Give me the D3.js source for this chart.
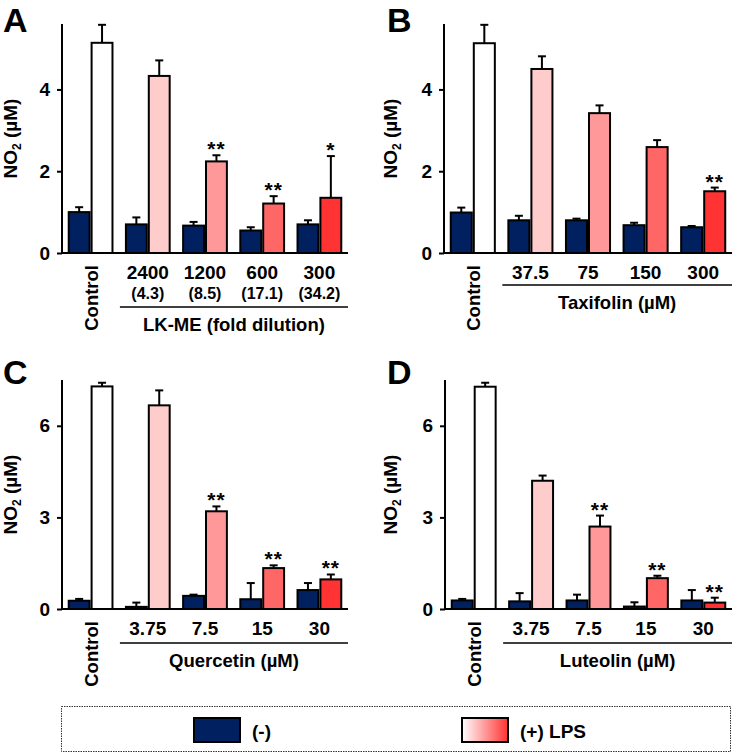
<!DOCTYPE html>
<html><head><meta charset="utf-8">
<script src="https://cdn.jsdelivr.net/npm/d3@7"></script>
<style>
body{margin:0;background:#fff;}
text{font-family:"Liberation Sans",Arial,sans-serif;font-weight:bold;fill:#000;}
</style></head>
<body><svg id="c" width="733" height="754"></svg>
<script>
// ---- data ----
const groupsA = ["Control","2400","1200","600","300"];
const subA = ["","(4.3)","(8.5)","(17.1)","(34.2)"];
const negA = [1.00,0.70,0.67,0.55,0.70];
const negErrA = [0.12,0.17,0.09,0.08,0.10];
const posA = [5.14,4.33,2.24,1.21,1.35];
const posErrA = [0.44,0.38,0.15,0.18,1.02];
const sigA = ["","","**","**","*"];

const groupsB = ["Control","37.5","75","150","300"];
const negB = [0.99,0.80,0.80,0.68,0.63];
const negErrB = [0.12,0.11,0.04,0.06,0.03];
const posB = [5.13,4.50,3.42,2.59,1.51];
const posErrB = [0.45,0.31,0.19,0.17,0.09];
const sigB = ["","","","","**"];

const groupsC = ["Control","3.75","7.5","15","30"];
const negC = [0.27,0.07,0.43,0.32,0.62];
const negErrC = [0.06,0.14,0.04,0.53,0.23];
const posC = [7.29,6.67,3.20,1.34,0.97];
const posErrC = [0.12,0.49,0.16,0.09,0.16];
const sigC = ["","","**","**","**"];

const groupsD = ["Control","3.75","7.5","15","30"];
const negD = [0.28,0.25,0.28,0.08,0.28];
const negErrD = [0.05,0.27,0.19,0.14,0.34];
const posD = [7.28,4.20,2.70,1.01,0.21];
const posErrD = [0.13,0.17,0.36,0.08,0.16];
const sigD = ["","","**","**","**"];

const posColors = ["#ffffff","#ffcccc","#ff9999","#ff6666","#ff3333"];
const negColor = "#002060";
const ticksAB = [0,2,4];
const ticksCD = [0,3,6];

const svg = d3.select("#c");

function panel(o){
  const g = svg.append("g");
  const x = d3.scaleBand().domain(o.groups).range([o.x0,o.x1]).paddingInner(0.2).paddingOuter(0.1);
  const xs = d3.scaleBand().domain(["neg","pos"]).range([0,x.bandwidth()]);
  const y = d3.scaleLinear().domain([0,o.ymax]).range([o.y0,o.y1]);
  o.groups.forEach((grp,i)=>{
    const items=[{k:"neg",v:o.neg[i],e:o.negErr[i],c:negColor},{k:"pos",v:o.pos[i],e:o.posErr[i],c:posColors[i]}];
    items.forEach(it=>{
      const bx = x(grp)+xs(it.k);
      const cx = bx+xs.bandwidth()/2;
      g.append("line").attr("x1",cx).attr("x2",cx).attr("y1",y(it.v)).attr("y2",y(it.v+it.e)).attr("stroke","#000").attr("stroke-width",2);
      g.append("line").attr("x1",cx-4).attr("x2",cx+4).attr("y1",y(it.v+it.e)).attr("y2",y(it.v+it.e)).attr("stroke","#000").attr("stroke-width",2);
      g.append("rect").attr("x",bx+1).attr("width",xs.bandwidth()-2).attr("y",y(it.v)).attr("height",y(0)-y(it.v))
        .attr("fill",it.c).attr("stroke","#000").attr("stroke-width",2);
      if(it.k==="pos" && o.sig[i]){
        g.append("text").attr("x",cx).attr("y",y(it.v+it.e)+1).attr("text-anchor","middle").attr("font-size",21).attr("letter-spacing",1).text(o.sig[i]);
      }
    });
  });
  const ya = g.append("g").attr("transform",`translate(${o.x0},0)`).call(d3.axisLeft(y).tickValues(o.ticks).tickSize(5).tickPadding(7).tickFormat(d3.format("d")));
  ya.select(".domain").attr("d",`M0,${o.y0}V${o.y1}`).attr("stroke-width",2);
  ya.selectAll(".tick line").attr("stroke-width",2);
  ya.selectAll(".tick text").attr("font-size",19).style("font-family","Liberation Sans, Arial").style("font-weight","bold");
  g.append("line").attr("x1",o.x0-1).attr("x2",o.x1).attr("y1",o.y0).attr("y2",o.y0).attr("stroke","#000").attr("stroke-width",2);
  o.groups.forEach((grp,i)=>{
    const cx = x(grp)+x.bandwidth()/2;
    if(i===0){
      g.append("text").attr("transform",`translate(${cx+7},${o.y0+12}) rotate(-90)`).attr("text-anchor","end").attr("font-size",18.5).text(grp);
    } else {
      g.append("text").attr("x",cx).attr("y",o.y0+26).attr("text-anchor","middle").attr("font-size",19).text(grp);
      if(o.sub && o.sub[i]) g.append("text").attr("x",cx).attr("y",o.y0+46).attr("text-anchor","middle").attr("font-size",16).text(o.sub[i]);
    }
  });
  const lx0 = x(o.groups[1])-5;
  g.append("line").attr("x1",lx0).attr("x2",o.x1).attr("y1",o.lineY).attr("y2",o.lineY).attr("stroke","#000").attr("stroke-width",1.5);
  g.append("text").attr("x",(lx0+o.x1)/2).attr("y",o.lineY+24).attr("text-anchor","middle").attr("font-size",18.5).text(o.title);
  const yl = g.append("text").attr("transform",`translate(${o.ylx},${(o.y0+o.y1)/2}) rotate(-90)`).attr("text-anchor","middle").attr("font-size",19);
  yl.append("tspan").text("NO");
  yl.append("tspan").attr("font-size",12).attr("dy",4).text("2");
  yl.append("tspan").attr("dy",-4).text(" (µM)");
  g.append("text").attr("x",o.lx).attr("y",o.ly).attr("font-size",34).text(o.letter);
}

panel({groups:groupsA,sub:subA,neg:negA,negErr:negErrA,pos:posA,posErr:posErrA,sig:sigA,x0:62,x1:348,y0:253,y1:24,ymax:5.6,ticks:ticksAB,lineY:307,title:"LK-ME (fold dilution)",ylx:17,letter:"A",lx:3,ly:32});
panel({groups:groupsB,neg:negB,negErr:negErrB,pos:posB,posErr:posErrB,sig:sigB,x0:444,x1:732,y0:253,y1:24,ymax:5.6,ticks:ticksAB,lineY:285,title:"Taxifolin (µM)",ylx:397,letter:"B",lx:387,ly:32});
panel({groups:groupsC,neg:negC,negErr:negErrC,pos:posC,posErr:posErrC,sig:sigC,x0:62,x1:348,y0:609,y1:380,ymax:7.5,ticks:ticksCD,lineY:643,title:"Quercetin (µM)",ylx:17,letter:"C",lx:3,ly:384});
panel({groups:groupsD,neg:negD,negErr:negErrD,pos:posD,posErr:posErrD,sig:sigD,x0:445,x1:732,y0:609,y1:380,ymax:7.5,ticks:ticksCD,lineY:643,title:"Luteolin (µM)",ylx:397,letter:"D",lx:387,ly:384});

const defs = svg.append("defs");
const gr = defs.append("linearGradient").attr("id","lg");
gr.append("stop").attr("offset","0%").attr("stop-color","#ffffff");
gr.append("stop").attr("offset","100%").attr("stop-color","#ff3333");
const leg = svg.append("g");
leg.append("rect").attr("x",61.5).attr("y",706.5).attr("width",669).attr("height",45).attr("fill","none").attr("stroke","#333").attr("stroke-width",1).attr("stroke-dasharray","1.5,1");
const legendItems = [{label:"(-)",fill:negColor,x:194},{label:"(+) LPS",fill:"url(#lg)",x:462}];
legendItems.forEach(d=>{
  leg.append("rect").attr("x",d.x).attr("y",718).attr("width",46).attr("height",24).attr("fill",d.fill).attr("stroke","#000").attr("stroke-width",2);
  leg.append("text").attr("x",d.x+58).attr("y",738).attr("font-size",19).text(d.label);
});
</script></body></html>
